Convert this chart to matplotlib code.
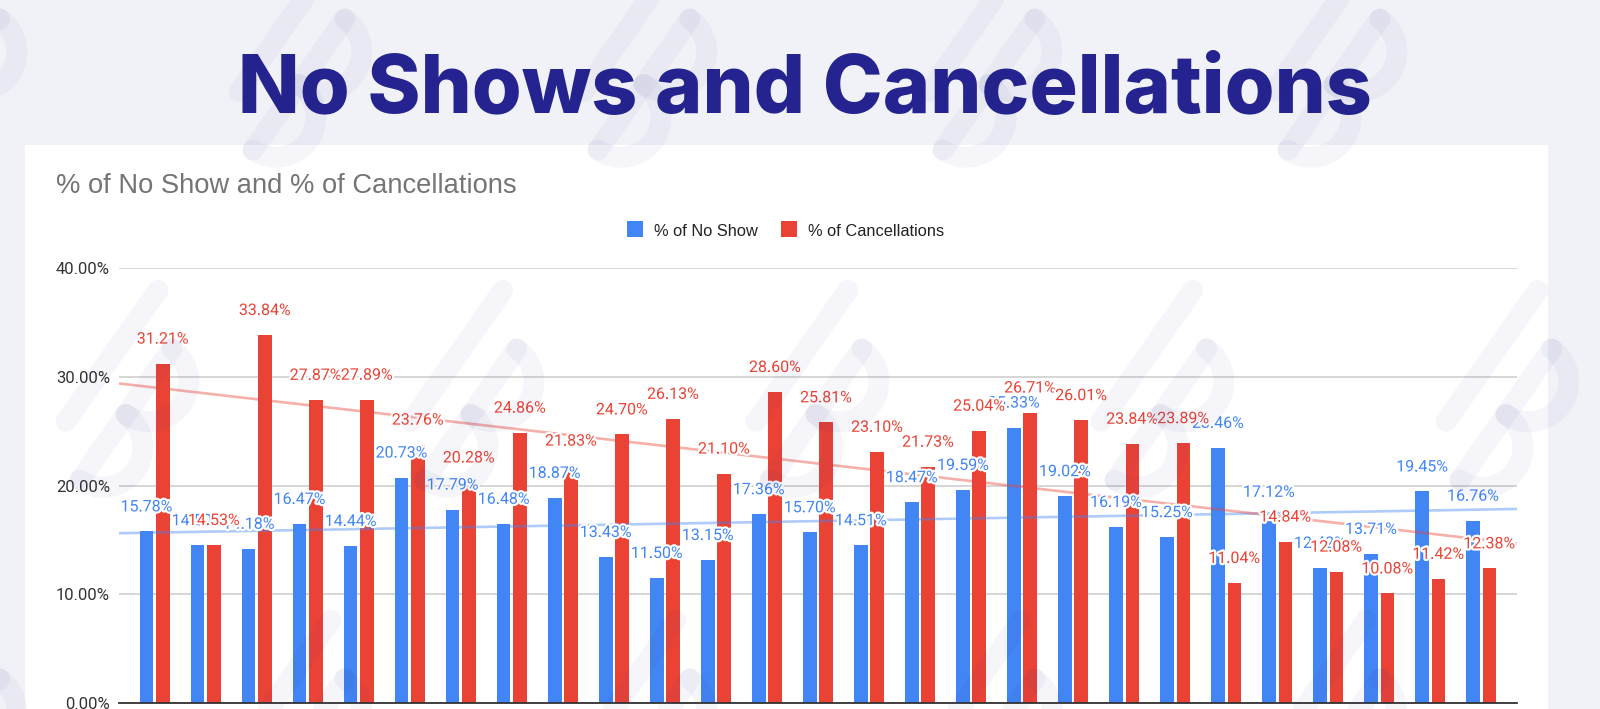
import numpy as np
import matplotlib
matplotlib.use('Agg')
import matplotlib.pyplot as plt
from matplotlib.patches import Rectangle
import matplotlib.patheffects as pe

# ---------------- data ----------------
no_show = [15.78, 14.50, 14.18, 16.47, 14.44, 20.73, 17.79, 16.48, 18.87,
           13.43, 11.50, 13.15, 17.36, 15.70, 14.51, 18.47, 19.59, 25.33,
           19.02, 16.19, 15.25, 23.46, 17.12, 12.42, 13.71, 19.45, 16.76]
cancellations = [31.21, 14.53, 33.84, 27.87, 27.89, 23.76, 20.28, 24.86, 21.83,
                 24.70, 26.13, 21.10, 28.60, 25.81, 23.10, 21.73, 25.04, 26.71,
                 26.01, 23.84, 23.89, 11.04, 14.84, 12.08, 10.08, 11.42, 12.38]
y_ticks = [0, 10, 20, 30, 40]
y_tick_labels = ['0.00%', '10.00%', '20.00%', '30.00%', '40.00%']
series_names = ['% of No Show', '% of Cancellations']
title = 'No Shows and Cancellations'
subtitle = '% of No Show and % of Cancellations'

BLUE = '#4285F4'
RED = '#EA4335'

W, H = 1600, 709
fig = plt.figure(figsize=(16, 7.09), dpi=100)
fig.patch.set_facecolor('#F1F2F7')


def fx(px):
    return px / W


def fy(py):
    return 1 - py / H


# white chart panel
fig.patches.append(Rectangle((fx(25), 0), fx(1548) - fx(25), fy(145),
                             transform=fig.transFigure, facecolor='white',
                             edgecolor='none', zorder=-1))

ax = fig.add_axes([fx(119), fy(703), fx(1517) - fx(119), fy(268) - fy(703)])
ax.set_facecolor('none')

x = np.arange(len(no_show))
bw = 0.264
off = 0.159
ax.bar(x - off, no_show, bw, color=BLUE, zorder=2)
ax.bar(x + off, cancellations, bw, color=RED, zorder=2)

# linear trendlines
xs = np.array([-0.7, len(x) - 0.3])
for vals, c in [(no_show, BLUE), (cancellations, RED)]:
    k, b = np.polyfit(x, vals, 1)
    ax.plot(xs, k * xs + b, color=c, alpha=0.42, lw=1.9, zorder=3,
            solid_capstyle='butt')

stroke = [pe.withStroke(linewidth=3.2, foreground='white')]
for vals, c, sgn in [(no_show, BLUE, -1), (cancellations, RED, 1)]:
    for xi, v in zip(x, vals):
        ax.annotate(f'{v:.2f}%', (xi + sgn * off, v), xytext=(0, 14.4),
                    textcoords='offset points', ha='center', va='baseline',
                    color=c, fontsize=11.5, family='Roboto',
                    path_effects=stroke, zorder=5)

ax.set_xlim(-0.7, len(x) - 0.3)
ax.set_ylim(0, 40)
ax.set_yticks(y_ticks, y_tick_labels)
ax.set_xticks([])
ax.tick_params(axis='y', length=0, pad=6.5, labelsize=12, labelcolor='#333333')
for lab in ax.get_yticklabels():
    lab.set_family('Roboto')
ax.yaxis.grid(True, color='#CCCCCC', lw=1.1)
ax.set_axisbelow(True)
for s in ['top', 'right', 'left']:
    ax.spines[s].set_visible(False)
ax.spines['bottom'].set_color('#333333')
ax.spines['bottom'].set_linewidth(1.3)
ax.spines['bottom'].set_zorder(4)

# titles
fig.text(fx(805), fy(113), title, ha='center', va='baseline',
         fontsize=58, fontweight='heavy', family='Inter', color='#24238F')
fig.text(fx(56), fy(193), subtitle, ha='left', va='baseline',
         fontsize=19.7, family='Liberation Sans', color='#757575')

# legend
for sx, tx, c, name in [(627, 654, BLUE, series_names[0]),
                        (781, 808, RED, series_names[1])]:
    fig.patches.append(Rectangle((fx(sx), fy(237)), fx(16), 15.5 / H,
                                 transform=fig.transFigure, facecolor=c,
                                 edgecolor='none', zorder=1))
    fig.text(fx(tx), fy(236), name, ha='left', va='baseline', fontsize=11.8,
             family='Liberation Sans', color='#222222')

# faint watermark overlay
wm = fig.add_axes([0, 0, 1, 1], zorder=10)
wm.set_xlim(0, W)
wm.set_ylim(H, 0)
wm.axis('off')
ang = np.deg2rad(55)
d = np.array([np.cos(ang), -np.sin(ang)])
n = np.array([np.sin(ang), np.cos(ang)])


def logo(cx, cy):
    o = np.array([cx, cy])
    segs = []
    segs.append([o, o + 160 * d])
    segs.append([o - 45 * n + 40 * d, o - 45 * n + 200 * d])
    t = np.linspace(0, np.pi, 40)
    for uc in (40, 120):
        pts = [o + (uc + 40 * np.cos(tt)) * d + 40 * np.sin(tt) * n for tt in t]
        segs.append(pts)
    for sg in segs:
        sg = np.array(sg)
        wm.plot(sg[:, 0], sg[:, 1], color='#2B2B8C', alpha=0.045, lw=15,
                solid_capstyle='round')


for r, cy in enumerate(range(150, 1000, 330)):
    shift = 0 if r % 2 == 0 else 172
    for cx in range(80 + shift, 1800, 345):
        logo(cx - 172, cy)

fig.savefig('out.png', dpi=100, facecolor=fig.get_facecolor())
